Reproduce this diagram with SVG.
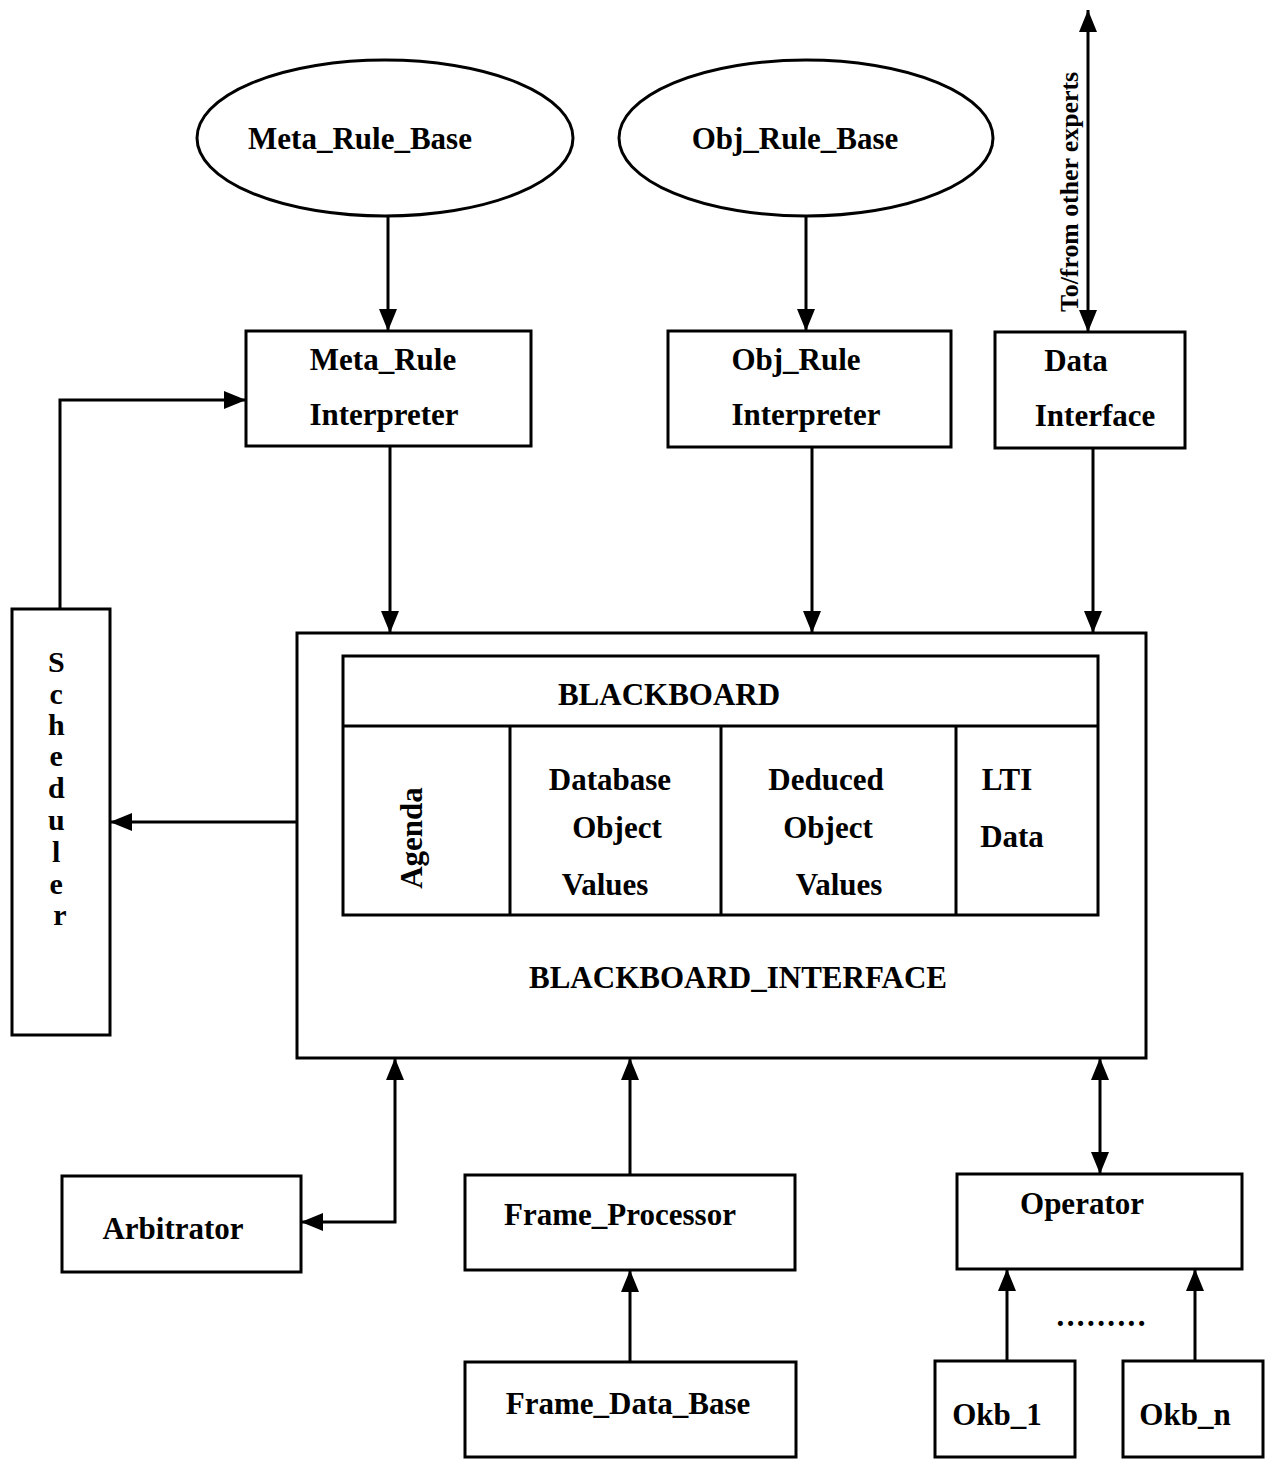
<svg xmlns="http://www.w3.org/2000/svg" width="1270" height="1459" viewBox="0 0 1270 1459">
<style>
  .box{fill:#fff;stroke:#000;stroke-width:3}
  .t{font-family:"Liberation Serif","Times New Roman",serif;font-weight:bold;font-size:31px;fill:#000;text-anchor:middle}
  .c{fill:none;stroke:#000;stroke-width:3}
  .a{marker-end:url(#ah)}
  .aa{marker-start:url(#ah);marker-end:url(#ah)}
</style>
<defs>
  <marker id="ah" viewBox="0 0 22 18" refX="22" refY="9" markerWidth="22" markerHeight="18" orient="auto-start-reverse" markerUnits="userSpaceOnUse">
    <path d="M0,0 L22,9 L0,18 z" fill="#000"/>
  </marker>
</defs>
<rect width="1270" height="1459" fill="#fff"/>

<g id="connectors">
  <path class="c a" d="M388,216 V331"/>
  <path class="c a" d="M806,216 V331"/>
  <path class="c aa" d="M1088,10 V332"/>
  <path class="c a" d="M390,446 V633"/>
  <path class="c a" d="M812,447 V633"/>
  <path class="c a" d="M1093,448 V633"/>
  <path class="c a" d="M60,609 V400 H246"/>
  <path class="c a" d="M297,822 H110"/>
  <path class="c aa" d="M301,1222 H395 V1058"/>
  <path class="c a" d="M630,1175 V1058"/>
  <path class="c aa" d="M1100,1058 V1174"/>
  <path class="c a" d="M630,1362 V1270"/>
  <path class="c a" d="M1007,1361 V1269"/>
  <path class="c a" d="M1195,1361 V1269"/>
  <text class="t" x="1069" y="192" textLength="240" lengthAdjust="spacingAndGlyphs" style="font-size:25px" transform="rotate(-90 1069 192)" dy="9">To/from other experts</text>
</g>

<g id="meta_rule_base">
  <ellipse class="box" cx="385" cy="138" rx="188" ry="78"/>
  <text class="t" x="360" y="149">Meta_Rule_Base</text>
</g>
<g id="obj_rule_base">
  <ellipse class="box" cx="806" cy="138" rx="187" ry="78"/>
  <text class="t" x="795" y="149">Obj_Rule_Base</text>
</g>
<g id="meta_rule_interpreter">
  <rect class="box" x="246" y="331" width="285" height="115"/>
  <text class="t" x="383" y="370">Meta_Rule</text>
  <text class="t" x="384" y="425">Interpreter</text>
</g>
<g id="obj_rule_interpreter">
  <rect class="box" x="668" y="331" width="283" height="116"/>
  <text class="t" x="796" y="370">Obj_Rule</text>
  <text class="t" x="806" y="425">Interpreter</text>
</g>
<g id="data_interface">
  <rect class="box" x="995" y="332" width="190" height="116"/>
  <text class="t" x="1076" y="371">Data</text>
  <text class="t" x="1095" y="426">Interface</text>
</g>
<g id="scheduler">
  <rect class="box" x="12" y="609" width="98" height="426"/>
  <text class="t" x="60" style="font-size:30px">
    <tspan x="60" y="672">S</tspan>
    <tspan x="60" y="704">c</tspan>
    <tspan x="60" y="735">h</tspan>
    <tspan x="60" y="766">e</tspan>
    <tspan x="60" y="798">d</tspan>
    <tspan x="60" y="830">u</tspan>
    <tspan x="60" y="862">l</tspan>
    <tspan x="60" y="894">e</tspan>
    <tspan x="60" y="925">r</tspan>
  </text>
</g>
<g id="blackboard_interface">
  <rect class="box" x="297" y="633" width="849" height="425"/>
  <text class="t" x="738" y="988">BLACKBOARD_INTERFACE</text>
</g>
<g id="blackboard">
  <rect class="box" x="343" y="656" width="755" height="259"/>
  <path class="c" d="M343,726 H1098 M510,726 V915 M721,726 V915 M956,726 V915"/>
  <text class="t" x="669" y="705">BLACKBOARD</text>
  <text class="t" x="422" y="838" transform="rotate(-90 422 838)" dy="0">Agenda</text>
  <text class="t" x="610" y="790">Database</text>
  <text class="t" x="617" y="838">Object</text>
  <text class="t" x="605" y="895">Values</text>
  <text class="t" x="826" y="790">Deduced</text>
  <text class="t" x="828" y="838">Object</text>
  <text class="t" x="839" y="895">Values</text>
  <text class="t" x="1007" y="790">LTI</text>
  <text class="t" x="1012" y="847">Data</text>
</g>
<g id="arbitrator">
  <rect class="box" x="62" y="1176" width="239" height="96"/>
  <text class="t" x="173" y="1239">Arbitrator</text>
</g>
<g id="frame_processor">
  <rect class="box" x="465" y="1175" width="330" height="95"/>
  <text class="t" x="620" y="1225">Frame_Processor</text>
</g>
<g id="frame_data_base">
  <rect class="box" x="465" y="1362" width="331" height="95"/>
  <text class="t" x="628" y="1414">Frame_Data_Base</text>
</g>
<g id="operator">
  <rect class="box" x="957" y="1174" width="285" height="95"/>
  <text class="t" x="1082" y="1214">Operator</text>
</g>
<g id="okb_1">
  <rect class="box" x="935" y="1361" width="140" height="96"/>
  <text class="t" x="997" y="1425">Okb_1</text>
</g>
<g id="okb_n">
  <rect class="box" x="1123" y="1361" width="140" height="96"/>
  <text class="t" x="1185" y="1425">Okb_n</text>
</g>
<text class="t" x="1101" y="1326" textLength="89" lengthAdjust="spacing">.........</text>
</svg>
